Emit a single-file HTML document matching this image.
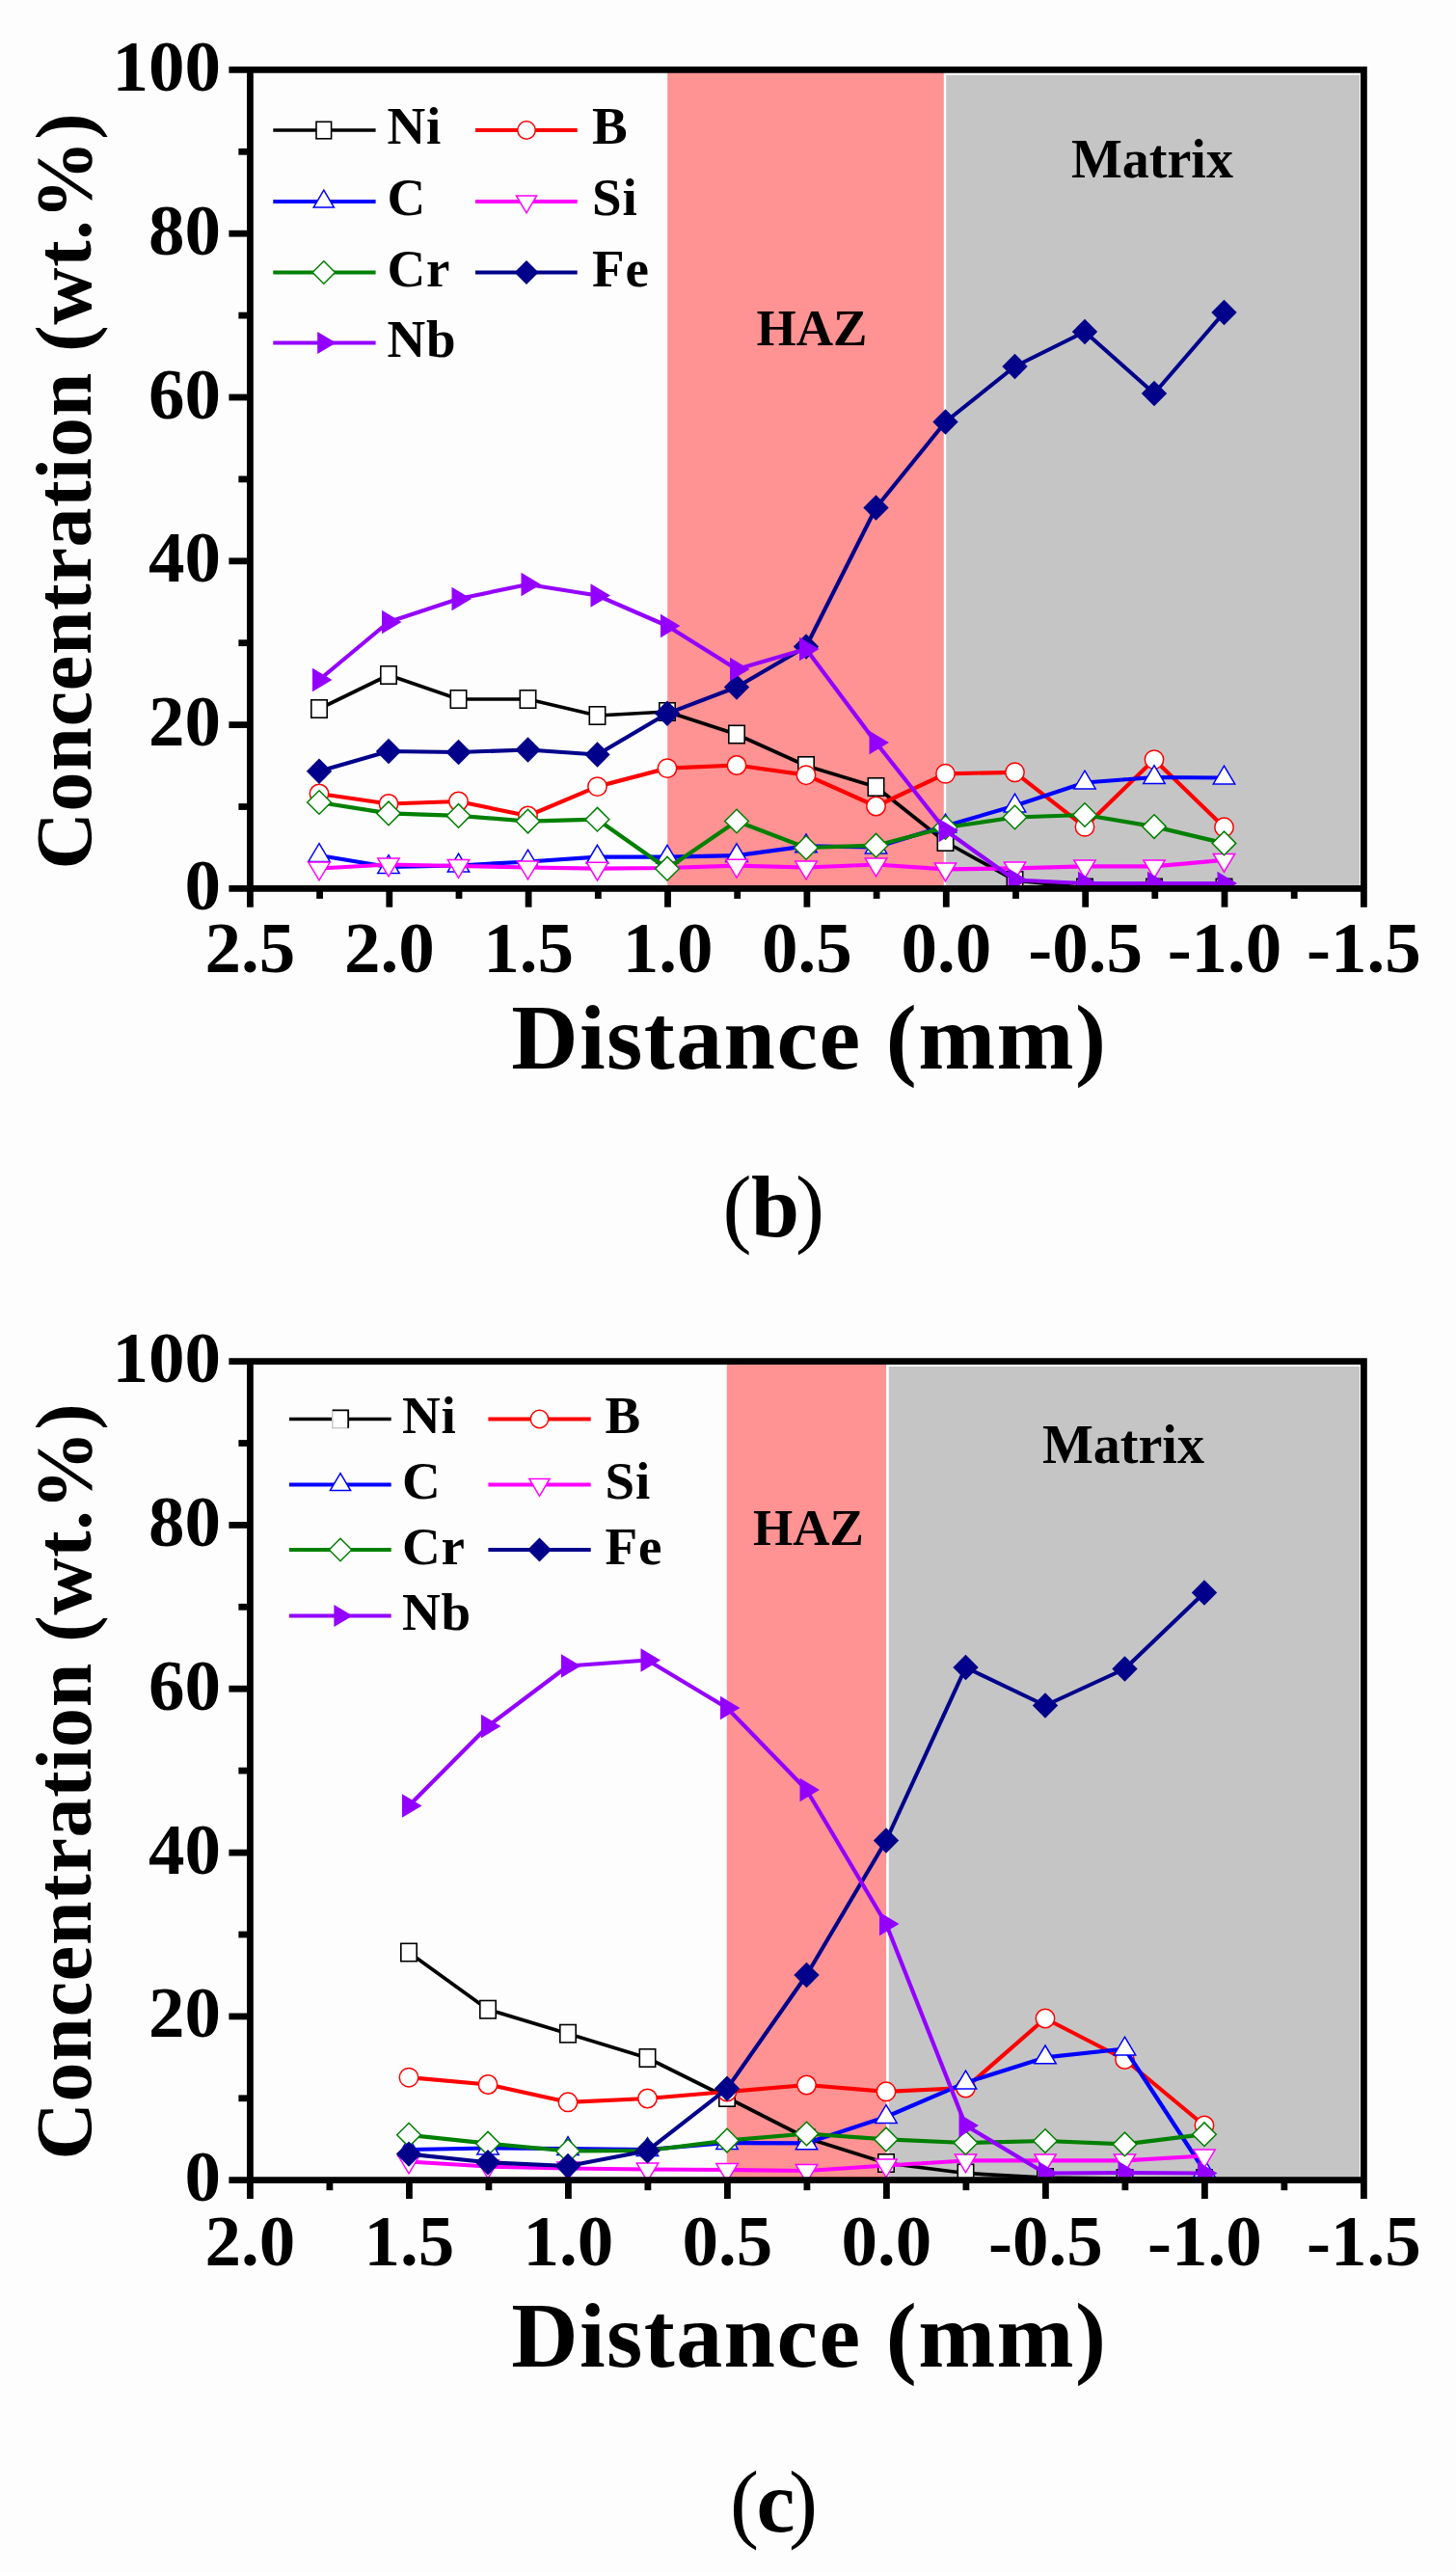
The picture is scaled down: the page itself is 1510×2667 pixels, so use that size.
<!DOCTYPE html>
<html><head><meta charset="utf-8"><title>Figure</title><style>html,body{margin:0;padding:0;background:#fff}svg{display:block}text{font-family:"Liberation Serif",serif;font-weight:bold;fill:#000}</style></head><body>
<svg width="1510" height="2667" viewBox="0 0 1510 2667">
<rect width="1510" height="2667" fill="#fdfdfd"/>
<rect x="692.2" y="72.4" width="286.79999999999995" height="849.0" fill="#ff9292"/>
<rect x="981.1" y="77.80000000000001" width="429.00000000000006" height="843.6" fill="#c5c5c5"/>
<rect x="978.8000000000001" y="72.4" width="2.3" height="849.0" fill="#fff"/>
<clipPath id="clipb"><rect x="259.4" y="72.4" width="1155.0" height="850.0"/></clipPath><g clip-path="url(#clipb)">
<polyline fill="none" stroke="#000000" stroke-width="3.7" stroke-linejoin="round" points="331.0,735.0 403.0,700.0 475.5,725.0 547.5,725.0 619.5,742.0 692.0,738.0 764.0,761.5 836.0,794.0 908.5,816.0 980.5,873.0 1052.5,913.0 1125.0,920.5 1197.0,920.5 1269.5,920.5"/>
<rect x="322.8" y="725.8" width="16.4" height="18.4" fill="#fff" stroke="#000000" stroke-width="1.6"/>
<rect x="394.8" y="690.8" width="16.4" height="18.4" fill="#fff" stroke="#000000" stroke-width="1.6"/>
<rect x="467.3" y="715.8" width="16.4" height="18.4" fill="#fff" stroke="#000000" stroke-width="1.6"/>
<rect x="539.3" y="715.8" width="16.4" height="18.4" fill="#fff" stroke="#000000" stroke-width="1.6"/>
<rect x="611.3" y="732.8" width="16.4" height="18.4" fill="#fff" stroke="#000000" stroke-width="1.6"/>
<rect x="683.8" y="728.8" width="16.4" height="18.4" fill="#fff" stroke="#000000" stroke-width="1.6"/>
<rect x="755.8" y="752.3" width="16.4" height="18.4" fill="#fff" stroke="#000000" stroke-width="1.6"/>
<rect x="827.8" y="784.8" width="16.4" height="18.4" fill="#fff" stroke="#000000" stroke-width="1.6"/>
<rect x="900.3" y="806.8" width="16.4" height="18.4" fill="#fff" stroke="#000000" stroke-width="1.6"/>
<rect x="972.3" y="863.8" width="16.4" height="18.4" fill="#fff" stroke="#000000" stroke-width="1.6"/>
<rect x="1044.3" y="903.8" width="16.4" height="18.4" fill="#fff" stroke="#000000" stroke-width="1.6"/>
<rect x="1116.8" y="911.3" width="16.4" height="18.4" fill="#fff" stroke="#000000" stroke-width="1.6"/>
<rect x="1188.8" y="911.3" width="16.4" height="18.4" fill="#fff" stroke="#000000" stroke-width="1.6"/>
<rect x="1261.3" y="911.3" width="16.4" height="18.4" fill="#fff" stroke="#000000" stroke-width="1.6"/>
<polyline fill="none" stroke="#ff0000" stroke-width="4.2" stroke-linejoin="round" points="331.0,823.0 403.0,833.5 475.5,831.0 547.5,846.0 619.5,815.6 692.0,796.6 764.0,793.5 836.0,803.7 908.5,836.0 980.5,802.3 1052.5,800.8 1125.0,857.4 1197.0,787.6 1269.5,857.8"/>
<circle cx="331.0" cy="823.0" r="9.7" fill="#fff" stroke="#ff0000" stroke-width="1.5"/>
<circle cx="403.0" cy="833.5" r="9.7" fill="#fff" stroke="#ff0000" stroke-width="1.5"/>
<circle cx="475.5" cy="831.0" r="9.7" fill="#fff" stroke="#ff0000" stroke-width="1.5"/>
<circle cx="547.5" cy="846.0" r="9.7" fill="#fff" stroke="#ff0000" stroke-width="1.5"/>
<circle cx="619.5" cy="815.6" r="9.7" fill="#fff" stroke="#ff0000" stroke-width="1.5"/>
<circle cx="692.0" cy="796.6" r="9.7" fill="#fff" stroke="#ff0000" stroke-width="1.5"/>
<circle cx="764.0" cy="793.5" r="9.7" fill="#fff" stroke="#ff0000" stroke-width="1.5"/>
<circle cx="836.0" cy="803.7" r="9.7" fill="#fff" stroke="#ff0000" stroke-width="1.5"/>
<circle cx="908.5" cy="836.0" r="9.7" fill="#fff" stroke="#ff0000" stroke-width="1.5"/>
<circle cx="980.5" cy="802.3" r="9.7" fill="#fff" stroke="#ff0000" stroke-width="1.5"/>
<circle cx="1052.5" cy="800.8" r="9.7" fill="#fff" stroke="#ff0000" stroke-width="1.5"/>
<circle cx="1125.0" cy="857.4" r="9.7" fill="#fff" stroke="#ff0000" stroke-width="1.5"/>
<circle cx="1197.0" cy="787.6" r="9.7" fill="#fff" stroke="#ff0000" stroke-width="1.5"/>
<circle cx="1269.5" cy="857.8" r="9.7" fill="#fff" stroke="#ff0000" stroke-width="1.5"/>
<polyline fill="none" stroke="#0000ff" stroke-width="4.2" stroke-linejoin="round" points="331.0,887.0 403.0,899.0 475.5,897.5 547.5,893.5 619.5,888.7 692.0,888.7 764.0,887.2 836.0,877.4 908.5,878.5 980.5,856.5 1052.5,835.5 1125.0,811.5 1197.0,806.0 1269.5,806.5"/>
<polygon points="331.0,874.6 342.2,893.4 319.8,893.4" fill="#fff" stroke="#0000ff" stroke-width="1.5"/>
<polygon points="403.0,886.6 414.2,905.4 391.8,905.4" fill="#fff" stroke="#0000ff" stroke-width="1.5"/>
<polygon points="475.5,885.1 486.7,903.9 464.3,903.9" fill="#fff" stroke="#0000ff" stroke-width="1.5"/>
<polygon points="547.5,881.1 558.7,899.9 536.3,899.9" fill="#fff" stroke="#0000ff" stroke-width="1.5"/>
<polygon points="619.5,876.3 630.7,895.1 608.3,895.1" fill="#fff" stroke="#0000ff" stroke-width="1.5"/>
<polygon points="692.0,876.3 703.2,895.1 680.8,895.1" fill="#fff" stroke="#0000ff" stroke-width="1.5"/>
<polygon points="764.0,874.8 775.2,893.6 752.8,893.6" fill="#fff" stroke="#0000ff" stroke-width="1.5"/>
<polygon points="836.0,865.0 847.2,883.8 824.8,883.8" fill="#fff" stroke="#0000ff" stroke-width="1.5"/>
<polygon points="908.5,866.1 919.7,884.9 897.3,884.9" fill="#fff" stroke="#0000ff" stroke-width="1.5"/>
<polygon points="980.5,844.1 991.7,862.9 969.3,862.9" fill="#fff" stroke="#0000ff" stroke-width="1.5"/>
<polygon points="1052.5,823.1 1063.7,841.9 1041.3,841.9" fill="#fff" stroke="#0000ff" stroke-width="1.5"/>
<polygon points="1125.0,799.1 1136.2,817.9 1113.8,817.9" fill="#fff" stroke="#0000ff" stroke-width="1.5"/>
<polygon points="1197.0,793.6 1208.2,812.4 1185.8,812.4" fill="#fff" stroke="#0000ff" stroke-width="1.5"/>
<polygon points="1269.5,794.1 1280.7,812.9 1258.3,812.9" fill="#fff" stroke="#0000ff" stroke-width="1.5"/>
<polyline fill="none" stroke="#ff00ff" stroke-width="4.2" stroke-linejoin="round" points="331.0,900.5 403.0,896.5 475.5,898.0 547.5,899.5 619.5,900.6 692.0,900.0 764.0,897.7 836.0,899.5 908.5,896.5 980.5,901.3 1052.5,900.3 1125.0,898.3 1197.0,898.3 1269.5,891.8"/>
<polygon points="319.8,894.1 342.2,894.1 331.0,912.9" fill="#fff" stroke="#ff00ff" stroke-width="1.5"/>
<polygon points="391.8,890.1 414.2,890.1 403.0,908.9" fill="#fff" stroke="#ff00ff" stroke-width="1.5"/>
<polygon points="464.3,891.6 486.7,891.6 475.5,910.4" fill="#fff" stroke="#ff00ff" stroke-width="1.5"/>
<polygon points="536.3,893.1 558.7,893.1 547.5,911.9" fill="#fff" stroke="#ff00ff" stroke-width="1.5"/>
<polygon points="608.3,894.2 630.7,894.2 619.5,913.0" fill="#fff" stroke="#ff00ff" stroke-width="1.5"/>
<polygon points="680.8,893.6 703.2,893.6 692.0,912.4" fill="#fff" stroke="#ff00ff" stroke-width="1.5"/>
<polygon points="752.8,891.3 775.2,891.3 764.0,910.1" fill="#fff" stroke="#ff00ff" stroke-width="1.5"/>
<polygon points="824.8,893.1 847.2,893.1 836.0,911.9" fill="#fff" stroke="#ff00ff" stroke-width="1.5"/>
<polygon points="897.3,890.1 919.7,890.1 908.5,908.9" fill="#fff" stroke="#ff00ff" stroke-width="1.5"/>
<polygon points="969.3,894.9 991.7,894.9 980.5,913.7" fill="#fff" stroke="#ff00ff" stroke-width="1.5"/>
<polygon points="1041.3,893.9 1063.7,893.9 1052.5,912.7" fill="#fff" stroke="#ff00ff" stroke-width="1.5"/>
<polygon points="1113.8,891.9 1136.2,891.9 1125.0,910.7" fill="#fff" stroke="#ff00ff" stroke-width="1.5"/>
<polygon points="1185.8,891.9 1208.2,891.9 1197.0,910.7" fill="#fff" stroke="#ff00ff" stroke-width="1.5"/>
<polygon points="1258.3,885.4 1280.7,885.4 1269.5,904.2" fill="#fff" stroke="#ff00ff" stroke-width="1.5"/>
<polyline fill="none" stroke="#008000" stroke-width="4.2" stroke-linejoin="round" points="331.0,832.0 403.0,843.4 475.5,845.9 547.5,851.6 619.5,849.7 692.0,900.7 764.0,851.5 836.0,879.0 908.5,876.7 980.5,858.0 1052.5,847.5 1125.0,845.0 1197.0,857.1 1269.5,874.4"/>
<polygon points="331.0,819.7 343.3,832.0 331.0,844.3 318.7,832.0" fill="#fff" stroke="#008000" stroke-width="1.5"/>
<polygon points="403.0,831.1 415.3,843.4 403.0,855.7 390.7,843.4" fill="#fff" stroke="#008000" stroke-width="1.5"/>
<polygon points="475.5,833.6 487.8,845.9 475.5,858.2 463.2,845.9" fill="#fff" stroke="#008000" stroke-width="1.5"/>
<polygon points="547.5,839.3 559.8,851.6 547.5,863.9 535.2,851.6" fill="#fff" stroke="#008000" stroke-width="1.5"/>
<polygon points="619.5,837.4 631.8,849.7 619.5,862.0 607.2,849.7" fill="#fff" stroke="#008000" stroke-width="1.5"/>
<polygon points="692.0,888.4 704.3,900.7 692.0,913.0 679.7,900.7" fill="#fff" stroke="#008000" stroke-width="1.5"/>
<polygon points="764.0,839.2 776.3,851.5 764.0,863.8 751.7,851.5" fill="#fff" stroke="#008000" stroke-width="1.5"/>
<polygon points="836.0,866.7 848.3,879.0 836.0,891.3 823.7,879.0" fill="#fff" stroke="#008000" stroke-width="1.5"/>
<polygon points="908.5,864.4 920.8,876.7 908.5,889.0 896.2,876.7" fill="#fff" stroke="#008000" stroke-width="1.5"/>
<polygon points="980.5,845.7 992.8,858.0 980.5,870.3 968.2,858.0" fill="#fff" stroke="#008000" stroke-width="1.5"/>
<polygon points="1052.5,835.2 1064.8,847.5 1052.5,859.8 1040.2,847.5" fill="#fff" stroke="#008000" stroke-width="1.5"/>
<polygon points="1125.0,832.7 1137.3,845.0 1125.0,857.3 1112.7,845.0" fill="#fff" stroke="#008000" stroke-width="1.5"/>
<polygon points="1197.0,844.8 1209.3,857.1 1197.0,869.4 1184.7,857.1" fill="#fff" stroke="#008000" stroke-width="1.5"/>
<polygon points="1269.5,862.1 1281.8,874.4 1269.5,886.7 1257.2,874.4" fill="#fff" stroke="#008000" stroke-width="1.5"/>
<polyline fill="none" stroke="#00008b" stroke-width="4.1" stroke-linejoin="round" points="331.0,799.7 403.0,779.0 475.5,780.0 547.5,777.5 619.5,782.5 692.0,739.8 764.0,712.5 836.0,670.5 908.5,526.5 980.5,437.5 1052.5,380.0 1125.0,344.0 1197.0,408.0 1269.5,324.0"/>
<polygon points="331.0,786.5 344.2,799.7 331.0,812.9 317.8,799.7" fill="#00008b"/>
<polygon points="403.0,765.8 416.2,779.0 403.0,792.2 389.8,779.0" fill="#00008b"/>
<polygon points="475.5,766.8 488.7,780.0 475.5,793.2 462.3,780.0" fill="#00008b"/>
<polygon points="547.5,764.3 560.7,777.5 547.5,790.7 534.3,777.5" fill="#00008b"/>
<polygon points="619.5,769.3 632.7,782.5 619.5,795.7 606.3,782.5" fill="#00008b"/>
<polygon points="692.0,726.6 705.2,739.8 692.0,753.0 678.8,739.8" fill="#00008b"/>
<polygon points="764.0,699.3 777.2,712.5 764.0,725.7 750.8,712.5" fill="#00008b"/>
<polygon points="836.0,657.3 849.2,670.5 836.0,683.7 822.8,670.5" fill="#00008b"/>
<polygon points="908.5,513.3 921.7,526.5 908.5,539.7 895.3,526.5" fill="#00008b"/>
<polygon points="980.5,424.3 993.7,437.5 980.5,450.7 967.3,437.5" fill="#00008b"/>
<polygon points="1052.5,366.8 1065.7,380.0 1052.5,393.2 1039.3,380.0" fill="#00008b"/>
<polygon points="1125.0,330.8 1138.2,344.0 1125.0,357.2 1111.8,344.0" fill="#00008b"/>
<polygon points="1197.0,394.8 1210.2,408.0 1197.0,421.2 1183.8,408.0" fill="#00008b"/>
<polygon points="1269.5,310.8 1282.7,324.0 1269.5,337.2 1256.3,324.0" fill="#00008b"/>
<polyline fill="none" stroke="#9400ff" stroke-width="4.2" stroke-linejoin="round" points="331.0,705.0 403.0,645.0 475.5,621.0 547.5,606.0 619.5,617.5 692.0,649.0 764.0,694.0 836.0,673.0 908.5,770.0 980.5,861.0 1052.5,912.5 1125.0,916.0 1197.0,916.0 1269.5,916.0"/>
<polygon points="324.0,692.8 344.5,705.0 324.0,717.2" fill="#9400ff"/>
<polygon points="396.0,632.8 416.5,645.0 396.0,657.2" fill="#9400ff"/>
<polygon points="468.5,608.8 489.0,621.0 468.5,633.2" fill="#9400ff"/>
<polygon points="540.5,593.8 561.0,606.0 540.5,618.2" fill="#9400ff"/>
<polygon points="612.5,605.3 633.0,617.5 612.5,629.7" fill="#9400ff"/>
<polygon points="685.0,636.8 705.5,649.0 685.0,661.2" fill="#9400ff"/>
<polygon points="757.0,681.8 777.5,694.0 757.0,706.2" fill="#9400ff"/>
<polygon points="829.0,660.8 849.5,673.0 829.0,685.2" fill="#9400ff"/>
<polygon points="901.5,757.8 922.0,770.0 901.5,782.2" fill="#9400ff"/>
<polygon points="973.5,848.8 994.0,861.0 973.5,873.2" fill="#9400ff"/>
<polygon points="1045.5,900.3 1066.0,912.5 1045.5,924.7" fill="#9400ff"/>
<polygon points="1118.0,903.8 1138.5,916.0 1118.0,928.2" fill="#9400ff"/>
<polygon points="1190.0,903.8 1210.5,916.0 1190.0,928.2" fill="#9400ff"/>
<polygon points="1262.5,903.8 1283.0,916.0 1262.5,928.2" fill="#9400ff"/>
</g>
<g stroke="#000" stroke-width="6.8" fill="none" stroke-linecap="butt">
<path d="M237.39999999999998,72.4H1417.8000000000002M1414.4,72.4V940.6999999999999M237.39999999999998,921.4H1417.8000000000002M259.4,72.4V940.6999999999999"/>
<path d="M237.39999999999998,751.6H259.4"/>
<path d="M237.39999999999998,581.8H259.4"/>
<path d="M237.39999999999998,412.0H259.4"/>
<path d="M237.39999999999998,242.2H259.4"/>
<path d="M247.39999999999998,836.5H259.4"/>
<path d="M247.39999999999998,666.7H259.4"/>
<path d="M247.39999999999998,496.9H259.4"/>
<path d="M247.39999999999998,327.1H259.4"/>
<path d="M247.39999999999998,157.3H259.4"/>
<path d="M403.8,921.4V940.6999999999999"/>
<path d="M548.1,921.4V940.6999999999999"/>
<path d="M692.5,921.4V940.6999999999999"/>
<path d="M836.9,921.4V940.6999999999999"/>
<path d="M981.3,921.4V940.6999999999999"/>
<path d="M1125.7,921.4V940.6999999999999"/>
<path d="M1270.0,921.4V940.6999999999999"/>
<path d="M331.6,921.4V931.9"/>
<path d="M476.0,921.4V931.9"/>
<path d="M620.3,921.4V931.9"/>
<path d="M764.7,921.4V931.9"/>
<path d="M909.1,921.4V931.9"/>
<path d="M1053.5,921.4V931.9"/>
<path d="M1197.8,921.4V931.9"/>
<path d="M1342.2,921.4V931.9"/>
</g>
<text x="228.89999999999998" y="942.9" font-size="75" text-anchor="end">0</text>
<text x="228.89999999999998" y="773.1" font-size="75" text-anchor="end">20</text>
<text x="228.89999999999998" y="603.3" font-size="75" text-anchor="end">40</text>
<text x="228.89999999999998" y="433.5" font-size="75" text-anchor="end">60</text>
<text x="228.89999999999998" y="263.7" font-size="75" text-anchor="end">80</text>
<text x="228.89999999999998" y="93.9" font-size="75" text-anchor="end">100</text>
<text x="259.4" y="1008.4" font-size="75" text-anchor="middle">2.5</text>
<text x="403.8" y="1008.4" font-size="75" text-anchor="middle">2.0</text>
<text x="548.1" y="1008.4" font-size="75" text-anchor="middle">1.5</text>
<text x="692.5" y="1008.4" font-size="75" text-anchor="middle">1.0</text>
<text x="836.9" y="1008.4" font-size="75" text-anchor="middle">0.5</text>
<text x="981.3" y="1008.4" font-size="75" text-anchor="middle">0.0</text>
<text x="1125.7" y="1008.4" font-size="75" text-anchor="middle">-0.5</text>
<text x="1270.0" y="1008.4" font-size="75" text-anchor="middle">-1.0</text>
<text x="1414.4" y="1008.4" font-size="75" text-anchor="middle">-1.5</text>
<text x="839.3" y="1108" font-size="96" letter-spacing="1.4" text-anchor="middle">Distance (mm)</text>
<text transform="translate(94,509) rotate(-90)" font-size="82" letter-spacing="0.75" text-anchor="middle">Concentration (wt.%)</text>
<path d="M283.3,135H389.6" stroke="#000000" stroke-width="3.7"/>
<rect x="328.0" y="126.3" width="15.6" height="17.5" fill="#fff" stroke="#000000" stroke-width="1.6"/>
<text x="401.5" y="149" font-size="55" letter-spacing="0.8">Ni</text>
<path d="M493,135H598.7" stroke="#ff0000" stroke-width="4.2"/>
<circle cx="546.0" cy="135.0" r="9.2" fill="#fff" stroke="#ff0000" stroke-width="1.5"/>
<text x="614" y="149" font-size="55" letter-spacing="0.8">B</text>
<path d="M283.3,209H389.6" stroke="#0000ff" stroke-width="4.2"/>
<polygon points="335.8,197.2 346.4,215.1 325.2,215.1" fill="#fff" stroke="#0000ff" stroke-width="1.5"/>
<text x="401.5" y="223" font-size="55" letter-spacing="0.8">C</text>
<path d="M493,209H598.7" stroke="#ff00ff" stroke-width="4.2"/>
<polygon points="535.4,202.9 556.6,202.9 546.0,220.8" fill="#fff" stroke="#ff00ff" stroke-width="1.5"/>
<text x="614" y="223" font-size="55" letter-spacing="0.8">Si</text>
<path d="M283.3,282.5H389.6" stroke="#008000" stroke-width="4.2"/>
<polygon points="335.8,270.8 347.5,282.5 335.8,294.2 324.1,282.5" fill="#fff" stroke="#008000" stroke-width="1.5"/>
<text x="401.5" y="296.5" font-size="55" letter-spacing="0.8">Cr</text>
<path d="M493,282.5H598.7" stroke="#00008b" stroke-width="4.1"/>
<polygon points="546.0,270.0 558.5,282.5 546.0,295.0 533.5,282.5" fill="#00008b"/>
<text x="614" y="296.5" font-size="55" letter-spacing="0.8">Fe</text>
<path d="M283.3,355.5H389.6" stroke="#9400ff" stroke-width="4.2"/>
<polygon points="329.2,343.9 348.6,355.5 329.2,367.1" fill="#9400ff"/>
<text x="401.5" y="370" font-size="55" letter-spacing="0.8">Nb</text>
<text x="784.5" y="357.5" font-size="53">HAZ</text>
<text x="1111" y="184" font-size="56">Matrix</text>
<text y="1281.5" font-size="90" style="font-weight:normal"><tspan x="749.5">(</tspan><tspan x="779" style="font-weight:bold">b</tspan><tspan x="825">)</tspan></text>
<rect x="753.8" y="1411.6" width="165.5" height="849.0999999999999" fill="#ff9292"/>
<rect x="921.5" y="1417.0" width="488.6000000000001" height="843.6999999999999" fill="#c5c5c5"/>
<rect x="919.2" y="1411.6" width="2.3" height="849.0999999999999" fill="#fff"/>
<clipPath id="clipc"><rect x="259.4" y="1411.6" width="1155.0" height="850.0999999999999"/></clipPath><g clip-path="url(#clipc)">
<polyline fill="none" stroke="#000000" stroke-width="3.7" stroke-linejoin="round" points="424.0,2024.5 506.0,2083.7 589.0,2108.7 671.5,2134.0 754.0,2175.0 836.5,2217.0 919.0,2243.0 1001.5,2253.5 1084.0,2258.0 1166.5,2259.0 1249.0,2259.0"/>
<rect x="415.8" y="2015.3" width="16.4" height="18.4" fill="#fff" stroke="#000000" stroke-width="1.6"/>
<rect x="497.8" y="2074.5" width="16.4" height="18.4" fill="#fff" stroke="#000000" stroke-width="1.6"/>
<rect x="580.8" y="2099.5" width="16.4" height="18.4" fill="#fff" stroke="#000000" stroke-width="1.6"/>
<rect x="663.3" y="2124.8" width="16.4" height="18.4" fill="#fff" stroke="#000000" stroke-width="1.6"/>
<rect x="745.8" y="2165.8" width="16.4" height="18.4" fill="#fff" stroke="#000000" stroke-width="1.6"/>
<rect x="828.3" y="2207.8" width="16.4" height="18.4" fill="#fff" stroke="#000000" stroke-width="1.6"/>
<rect x="910.8" y="2233.8" width="16.4" height="18.4" fill="#fff" stroke="#000000" stroke-width="1.6"/>
<rect x="993.3" y="2244.3" width="16.4" height="18.4" fill="#fff" stroke="#000000" stroke-width="1.6"/>
<rect x="1075.8" y="2248.8" width="16.4" height="18.4" fill="#fff" stroke="#000000" stroke-width="1.6"/>
<rect x="1158.3" y="2249.8" width="16.4" height="18.4" fill="#fff" stroke="#000000" stroke-width="1.6"/>
<rect x="1240.8" y="2249.8" width="16.4" height="18.4" fill="#fff" stroke="#000000" stroke-width="1.6"/>
<polyline fill="none" stroke="#ff0000" stroke-width="4.2" stroke-linejoin="round" points="424.0,2154.2 506.0,2161.5 589.0,2179.8 671.5,2176.0 754.0,2169.0 836.5,2162.0 919.0,2168.8 1001.5,2165.0 1084.0,2093.0 1166.5,2135.5 1249.0,2204.0"/>
<circle cx="424.0" cy="2154.2" r="9.7" fill="#fff" stroke="#ff0000" stroke-width="1.5"/>
<circle cx="506.0" cy="2161.5" r="9.7" fill="#fff" stroke="#ff0000" stroke-width="1.5"/>
<circle cx="589.0" cy="2179.8" r="9.7" fill="#fff" stroke="#ff0000" stroke-width="1.5"/>
<circle cx="671.5" cy="2176.0" r="9.7" fill="#fff" stroke="#ff0000" stroke-width="1.5"/>
<circle cx="754.0" cy="2169.0" r="9.7" fill="#fff" stroke="#ff0000" stroke-width="1.5"/>
<circle cx="836.5" cy="2162.0" r="9.7" fill="#fff" stroke="#ff0000" stroke-width="1.5"/>
<circle cx="919.0" cy="2168.8" r="9.7" fill="#fff" stroke="#ff0000" stroke-width="1.5"/>
<circle cx="1001.5" cy="2165.0" r="9.7" fill="#fff" stroke="#ff0000" stroke-width="1.5"/>
<circle cx="1084.0" cy="2093.0" r="9.7" fill="#fff" stroke="#ff0000" stroke-width="1.5"/>
<circle cx="1166.5" cy="2135.5" r="9.7" fill="#fff" stroke="#ff0000" stroke-width="1.5"/>
<circle cx="1249.0" cy="2204.0" r="9.7" fill="#fff" stroke="#ff0000" stroke-width="1.5"/>
<polyline fill="none" stroke="#0000ff" stroke-width="4.2" stroke-linejoin="round" points="424.0,2229.0 506.0,2227.5 589.0,2228.0 671.5,2229.0 754.0,2222.0 836.5,2222.3 919.0,2195.0 1001.5,2159.6 1084.0,2133.4 1166.5,2124.5 1249.0,2251.0"/>
<polygon points="424.0,2216.6 435.2,2235.4 412.8,2235.4" fill="#fff" stroke="#0000ff" stroke-width="1.5"/>
<polygon points="506.0,2215.1 517.2,2233.9 494.8,2233.9" fill="#fff" stroke="#0000ff" stroke-width="1.5"/>
<polygon points="589.0,2215.6 600.2,2234.4 577.8,2234.4" fill="#fff" stroke="#0000ff" stroke-width="1.5"/>
<polygon points="671.5,2216.6 682.7,2235.4 660.3,2235.4" fill="#fff" stroke="#0000ff" stroke-width="1.5"/>
<polygon points="754.0,2209.6 765.2,2228.4 742.8,2228.4" fill="#fff" stroke="#0000ff" stroke-width="1.5"/>
<polygon points="836.5,2209.9 847.7,2228.7 825.3,2228.7" fill="#fff" stroke="#0000ff" stroke-width="1.5"/>
<polygon points="919.0,2182.6 930.2,2201.4 907.8,2201.4" fill="#fff" stroke="#0000ff" stroke-width="1.5"/>
<polygon points="1001.5,2147.2 1012.7,2166.0 990.3,2166.0" fill="#fff" stroke="#0000ff" stroke-width="1.5"/>
<polygon points="1084.0,2121.0 1095.2,2139.8 1072.8,2139.8" fill="#fff" stroke="#0000ff" stroke-width="1.5"/>
<polygon points="1166.5,2112.1 1177.7,2130.9 1155.3,2130.9" fill="#fff" stroke="#0000ff" stroke-width="1.5"/>
<polygon points="1249.0,2238.6 1260.2,2257.4 1237.8,2257.4" fill="#fff" stroke="#0000ff" stroke-width="1.5"/>
<polyline fill="none" stroke="#ff00ff" stroke-width="4.2" stroke-linejoin="round" points="424.0,2241.5 506.0,2246.5 589.0,2248.5 671.5,2249.5 754.0,2250.0 836.5,2251.0 919.0,2245.5 1001.5,2240.5 1084.0,2240.3 1166.5,2240.3 1249.0,2235.5"/>
<polygon points="412.8,2235.1 435.2,2235.1 424.0,2253.9" fill="#fff" stroke="#ff00ff" stroke-width="1.5"/>
<polygon points="494.8,2240.1 517.2,2240.1 506.0,2258.9" fill="#fff" stroke="#ff00ff" stroke-width="1.5"/>
<polygon points="577.8,2242.1 600.2,2242.1 589.0,2260.9" fill="#fff" stroke="#ff00ff" stroke-width="1.5"/>
<polygon points="660.3,2243.1 682.7,2243.1 671.5,2261.9" fill="#fff" stroke="#ff00ff" stroke-width="1.5"/>
<polygon points="742.8,2243.6 765.2,2243.6 754.0,2262.4" fill="#fff" stroke="#ff00ff" stroke-width="1.5"/>
<polygon points="825.3,2244.6 847.7,2244.6 836.5,2263.4" fill="#fff" stroke="#ff00ff" stroke-width="1.5"/>
<polygon points="907.8,2239.1 930.2,2239.1 919.0,2257.9" fill="#fff" stroke="#ff00ff" stroke-width="1.5"/>
<polygon points="990.3,2234.1 1012.7,2234.1 1001.5,2252.9" fill="#fff" stroke="#ff00ff" stroke-width="1.5"/>
<polygon points="1072.8,2233.9 1095.2,2233.9 1084.0,2252.7" fill="#fff" stroke="#ff00ff" stroke-width="1.5"/>
<polygon points="1155.3,2233.9 1177.7,2233.9 1166.5,2252.7" fill="#fff" stroke="#ff00ff" stroke-width="1.5"/>
<polygon points="1237.8,2229.1 1260.2,2229.1 1249.0,2247.9" fill="#fff" stroke="#ff00ff" stroke-width="1.5"/>
<polyline fill="none" stroke="#008000" stroke-width="4.2" stroke-linejoin="round" points="424.0,2213.8 506.0,2222.7 589.0,2230.5 671.5,2230.0 754.0,2219.6 836.5,2212.5 919.0,2218.4 1001.5,2222.0 1084.0,2220.0 1166.5,2223.4 1249.0,2213.2"/>
<polygon points="424.0,2201.5 436.3,2213.8 424.0,2226.1 411.7,2213.8" fill="#fff" stroke="#008000" stroke-width="1.5"/>
<polygon points="506.0,2210.4 518.3,2222.7 506.0,2235.0 493.7,2222.7" fill="#fff" stroke="#008000" stroke-width="1.5"/>
<polygon points="589.0,2218.2 601.3,2230.5 589.0,2242.8 576.7,2230.5" fill="#fff" stroke="#008000" stroke-width="1.5"/>
<polygon points="671.5,2217.7 683.8,2230.0 671.5,2242.3 659.2,2230.0" fill="#fff" stroke="#008000" stroke-width="1.5"/>
<polygon points="754.0,2207.3 766.3,2219.6 754.0,2231.9 741.7,2219.6" fill="#fff" stroke="#008000" stroke-width="1.5"/>
<polygon points="836.5,2200.2 848.8,2212.5 836.5,2224.8 824.2,2212.5" fill="#fff" stroke="#008000" stroke-width="1.5"/>
<polygon points="919.0,2206.1 931.3,2218.4 919.0,2230.7 906.7,2218.4" fill="#fff" stroke="#008000" stroke-width="1.5"/>
<polygon points="1001.5,2209.7 1013.8,2222.0 1001.5,2234.3 989.2,2222.0" fill="#fff" stroke="#008000" stroke-width="1.5"/>
<polygon points="1084.0,2207.7 1096.3,2220.0 1084.0,2232.3 1071.7,2220.0" fill="#fff" stroke="#008000" stroke-width="1.5"/>
<polygon points="1166.5,2211.1 1178.8,2223.4 1166.5,2235.7 1154.2,2223.4" fill="#fff" stroke="#008000" stroke-width="1.5"/>
<polygon points="1249.0,2200.9 1261.3,2213.2 1249.0,2225.5 1236.7,2213.2" fill="#fff" stroke="#008000" stroke-width="1.5"/>
<polyline fill="none" stroke="#00008b" stroke-width="4.1" stroke-linejoin="round" points="424.0,2233.6 506.0,2242.3 589.0,2246.0 671.5,2230.2 754.0,2165.8 836.5,2048.0 919.0,1908.5 1001.5,1729.0 1084.0,1768.5 1166.5,1730.5 1249.0,1651.5"/>
<polygon points="424.0,2220.4 437.2,2233.6 424.0,2246.8 410.8,2233.6" fill="#00008b"/>
<polygon points="506.0,2229.1 519.2,2242.3 506.0,2255.5 492.8,2242.3" fill="#00008b"/>
<polygon points="589.0,2232.8 602.2,2246.0 589.0,2259.2 575.8,2246.0" fill="#00008b"/>
<polygon points="671.5,2217.0 684.7,2230.2 671.5,2243.4 658.3,2230.2" fill="#00008b"/>
<polygon points="754.0,2152.6 767.2,2165.8 754.0,2179.0 740.8,2165.8" fill="#00008b"/>
<polygon points="836.5,2034.8 849.7,2048.0 836.5,2061.2 823.3,2048.0" fill="#00008b"/>
<polygon points="919.0,1895.3 932.2,1908.5 919.0,1921.7 905.8,1908.5" fill="#00008b"/>
<polygon points="1001.5,1715.8 1014.7,1729.0 1001.5,1742.2 988.3,1729.0" fill="#00008b"/>
<polygon points="1084.0,1755.3 1097.2,1768.5 1084.0,1781.7 1070.8,1768.5" fill="#00008b"/>
<polygon points="1166.5,1717.3 1179.7,1730.5 1166.5,1743.7 1153.3,1730.5" fill="#00008b"/>
<polygon points="1249.0,1638.3 1262.2,1651.5 1249.0,1664.7 1235.8,1651.5" fill="#00008b"/>
<polyline fill="none" stroke="#9400ff" stroke-width="4.2" stroke-linejoin="round" points="424.0,1872.5 506.0,1790.0 589.0,1727.5 671.5,1721.5 754.0,1771.0 836.5,1856.0 919.0,1995.0 1001.5,2204.0 1084.0,2253.5 1166.5,2253.0 1249.0,2253.5"/>
<polygon points="417.0,1860.3 437.5,1872.5 417.0,1884.7" fill="#9400ff"/>
<polygon points="499.0,1777.8 519.5,1790.0 499.0,1802.2" fill="#9400ff"/>
<polygon points="582.0,1715.3 602.5,1727.5 582.0,1739.7" fill="#9400ff"/>
<polygon points="664.5,1709.3 685.0,1721.5 664.5,1733.7" fill="#9400ff"/>
<polygon points="747.0,1758.8 767.5,1771.0 747.0,1783.2" fill="#9400ff"/>
<polygon points="829.5,1843.8 850.0,1856.0 829.5,1868.2" fill="#9400ff"/>
<polygon points="912.0,1982.8 932.5,1995.0 912.0,2007.2" fill="#9400ff"/>
<polygon points="994.5,2191.8 1015.0,2204.0 994.5,2216.2" fill="#9400ff"/>
<polygon points="1077.0,2241.3 1097.5,2253.5 1077.0,2265.7" fill="#9400ff"/>
<polygon points="1159.5,2240.8 1180.0,2253.0 1159.5,2265.2" fill="#9400ff"/>
<polygon points="1242.0,2241.3 1262.5,2253.5 1242.0,2265.7" fill="#9400ff"/>
</g>
<g stroke="#000" stroke-width="6.8" fill="none" stroke-linecap="butt">
<path d="M237.39999999999998,1411.6H1417.8000000000002M1414.4,1411.6V2280.0M237.39999999999998,2260.7H1417.8000000000002M259.4,1411.6V2280.0"/>
<path d="M237.39999999999998,2090.9H259.4"/>
<path d="M237.39999999999998,1921.1H259.4"/>
<path d="M237.39999999999998,1751.2H259.4"/>
<path d="M237.39999999999998,1581.4H259.4"/>
<path d="M247.39999999999998,2175.8H259.4"/>
<path d="M247.39999999999998,2006.0H259.4"/>
<path d="M247.39999999999998,1836.1H259.4"/>
<path d="M247.39999999999998,1666.3H259.4"/>
<path d="M247.39999999999998,1496.5H259.4"/>
<path d="M424.4,2260.7V2280.0"/>
<path d="M589.4,2260.7V2280.0"/>
<path d="M754.4,2260.7V2280.0"/>
<path d="M919.4,2260.7V2280.0"/>
<path d="M1084.4,2260.7V2280.0"/>
<path d="M1249.4,2260.7V2280.0"/>
<path d="M341.9,2260.7V2271.2"/>
<path d="M506.9,2260.7V2271.2"/>
<path d="M671.9,2260.7V2271.2"/>
<path d="M836.9,2260.7V2271.2"/>
<path d="M1001.9,2260.7V2271.2"/>
<path d="M1166.9,2260.7V2271.2"/>
<path d="M1331.9,2260.7V2271.2"/>
</g>
<text x="228.89999999999998" y="2282.2" font-size="75" text-anchor="end">0</text>
<text x="228.89999999999998" y="2112.4" font-size="75" text-anchor="end">20</text>
<text x="228.89999999999998" y="1942.6" font-size="75" text-anchor="end">40</text>
<text x="228.89999999999998" y="1772.7" font-size="75" text-anchor="end">60</text>
<text x="228.89999999999998" y="1602.9" font-size="75" text-anchor="end">80</text>
<text x="228.89999999999998" y="1433.1" font-size="75" text-anchor="end">100</text>
<text x="259.4" y="2348.5" font-size="75" text-anchor="middle">2.0</text>
<text x="424.4" y="2348.5" font-size="75" text-anchor="middle">1.5</text>
<text x="589.4" y="2348.5" font-size="75" text-anchor="middle">1.0</text>
<text x="754.4" y="2348.5" font-size="75" text-anchor="middle">0.5</text>
<text x="919.4" y="2348.5" font-size="75" text-anchor="middle">0.0</text>
<text x="1084.4" y="2348.5" font-size="75" text-anchor="middle">-0.5</text>
<text x="1249.4" y="2348.5" font-size="75" text-anchor="middle">-1.0</text>
<text x="1414.4" y="2348.5" font-size="75" text-anchor="middle">-1.5</text>
<text x="839.3" y="2453.5" font-size="96" letter-spacing="1.4" text-anchor="middle">Distance (mm)</text>
<text transform="translate(94,1847) rotate(-90)" font-size="82" letter-spacing="0.75" text-anchor="middle">Concentration (wt.%)</text>
<path d="M299.9,1471.5H405.7" stroke="#000000" stroke-width="3.7"/>
<rect x="344.8" y="1462.3" width="16.4" height="18.4" fill="#fff" stroke="#c8c8c8" stroke-width="1.5"/>
<path d="M344.8,1462.3H361.2V1480.7" fill="none" stroke="#000" stroke-width="1.8"/>
<text x="417" y="1486" font-size="55" letter-spacing="0.8">Ni</text>
<path d="M506.4,1471.5H612.7" stroke="#ff0000" stroke-width="4.2"/>
<circle cx="559.5" cy="1471.5" r="9.2" fill="#fff" stroke="#ff0000" stroke-width="1.5"/>
<text x="627.5" y="1486" font-size="55" letter-spacing="0.8">B</text>
<path d="M299.9,1539.5H405.7" stroke="#0000ff" stroke-width="4.2"/>
<polygon points="353.0,1527.7 363.6,1545.6 342.4,1545.6" fill="#fff" stroke="#0000ff" stroke-width="1.5"/>
<text x="417" y="1554" font-size="55" letter-spacing="0.8">C</text>
<path d="M506.4,1539.5H612.7" stroke="#ff00ff" stroke-width="4.2"/>
<polygon points="548.9,1533.4 570.1,1533.4 559.5,1551.3" fill="#fff" stroke="#ff00ff" stroke-width="1.5"/>
<text x="627.5" y="1554" font-size="55" letter-spacing="0.8">Si</text>
<path d="M299.9,1607H405.7" stroke="#008000" stroke-width="4.2"/>
<polygon points="353.0,1595.3 364.7,1607.0 353.0,1618.7 341.3,1607.0" fill="#fff" stroke="#008000" stroke-width="1.5"/>
<text x="417" y="1621.5" font-size="55" letter-spacing="0.8">Cr</text>
<path d="M506.4,1607H612.7" stroke="#00008b" stroke-width="4.1"/>
<polygon points="559.5,1594.5 572.0,1607.0 559.5,1619.5 547.0,1607.0" fill="#00008b"/>
<text x="627.5" y="1621.5" font-size="55" letter-spacing="0.8">Fe</text>
<path d="M299.9,1675.5H405.7" stroke="#9400ff" stroke-width="4.2"/>
<polygon points="346.4,1663.9 365.8,1675.5 346.4,1687.1" fill="#9400ff"/>
<text x="417" y="1690" font-size="55" letter-spacing="0.8">Nb</text>
<text x="781" y="1601.5" font-size="53">HAZ</text>
<text x="1081" y="1516.5" font-size="56">Matrix</text>
<text y="2625" font-size="90" style="font-weight:normal"><tspan x="757">(</tspan><tspan x="784.5" style="font-weight:bold">c</tspan><tspan x="818">)</tspan></text>
</svg></body></html>
